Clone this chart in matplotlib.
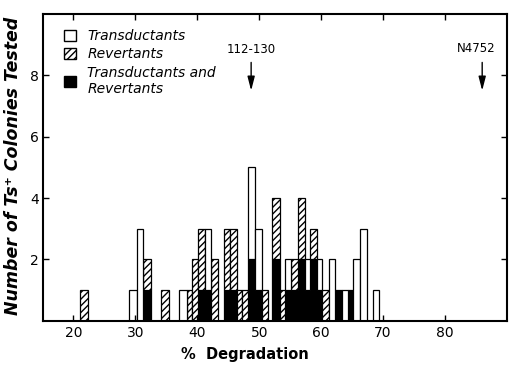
import matplotlib
matplotlib.use("Agg")
import matplotlib.pyplot as plt
from matplotlib.patches import Patch
import numpy as np

edges = [21.0, 22.4, 29.0, 30.2, 31.3, 32.5, 34.1, 35.4, 37.1, 38.3, 39.1, 40.2,
         41.2, 42.3, 43.3, 44.3, 45.3, 46.35, 47.3, 48.2, 49.3, 50.4, 51.45, 52.0,
         53.3, 54.15, 55.2, 56.3, 57.4, 58.2, 59.3, 60.1, 61.2, 62.2, 63.3, 64.3,
         65.2, 66.2, 67.4, 68.3, 69.3]
both = [0, 0, 0, 0, 1, 0, 0, 0, 0, 0, 0, 1, 1, 0, 0, 1, 1, 0, 0, 2,
        1, 0, 0, 2, 0, 1, 1, 2, 1, 2, 1, 0, 0, 1, 0, 1, 0, 0, 0, 0]
revertants = [1, 0, 0, 0, 1, 0, 1, 0, 0, 1, 2, 2, 0, 2, 0, 2, 2, 1, 1, 0,
              0, 1, 0, 2, 1, 0, 1, 2, 0, 1, 0, 1, 0, 0, 0, 0, 0, 0, 0, 0]
transductants = [0, 0, 1, 3, 0, 0, 0, 0, 1, 0, 0, 0, 2, 0, 0, 0, 0, 0, 0, 3,
                 2, 0, 0, 0, 0, 1, 0, 0, 1, 0, 1, 0, 2, 0, 1, 0, 2, 3, 0, 1]

strain_labels = ["112-130", "N4752"]
strain_x = [48.7, 86.0]

plt.rcParams["hatch.linewidth"] = 1.0

fig = plt.figure(figsize=(5.09, 3.67), dpi=100)
ax = fig.add_axes([0.0845, 0.126, 0.9115, 0.836])

left = np.array(edges[:-1])
width = np.diff(edges)
b = np.array(both)
r = np.array(revertants)
t = np.array(transductants)

keep = b > 0
ax.bar(left[keep], b[keep], width=width[keep], align="edge",
       facecolor="black", edgecolor="black", linewidth=0.9)
keep = r > 0
ax.bar(left[keep], r[keep], width=width[keep], bottom=b[keep], align="edge",
       facecolor="white", edgecolor="black", hatch="/////", linewidth=0.9)
keep = t > 0
ax.bar(left[keep], t[keep], width=width[keep], bottom=(b + r)[keep], align="edge",
       facecolor="white", edgecolor="black", linewidth=0.9)

# strain markers
for lab, x in zip(strain_labels, strain_x):
    ax.annotate("", xy=(x, 7.5), xytext=(x, 8.42),
                arrowprops=dict(arrowstyle="-|>,head_length=0.7,head_width=0.18",
                                color="black", lw=1.0, mutation_scale=12,
                                shrinkA=0, shrinkB=0))
ax.text(48.7, 8.85, strain_labels[0], ha="center", va="center", fontsize=8.5)
ax.text(85.0, 8.88, strain_labels[1], ha="center", va="center", fontsize=8.5)

ax.set_xlim(15.1, 90)
ax.set_ylim(0, 10)
ax.set_xticks([20, 30, 40, 50, 60, 70, 80])
ax.set_yticks([2, 4, 6, 8])
ax.tick_params(direction="in", top=True, right=True, length=4, width=1,
               labelsize=10)
ax.tick_params(axis="x", pad=4)
ax.tick_params(axis="y", pad=3)
for s in ax.spines.values():
    s.set_linewidth(1.5)

ax.set_xlabel("%  Degradation", fontsize=10.5, fontweight="bold")
ax.xaxis.set_label_coords(0.435, -0.085)
ax.set_ylabel("Number of Ts\u207a Colonies Tested", fontsize=12.5,
              fontweight="bold", style="italic")
ax.yaxis.set_label_coords(-0.045, 0.505)

handles = [Patch(facecolor="white", edgecolor="black", linewidth=1.0),
           Patch(facecolor="white", edgecolor="black", hatch="/////", linewidth=1.0),
           Patch(facecolor="black", edgecolor="black")]
labels = ["Transductants", "Revertants", "Transductants and\nRevertants"]
ax.legend(handles, labels, loc="upper left", bbox_to_anchor=(0.045, 0.95),
          frameon=False, borderpad=0, borderaxespad=0, handlelength=0.9,
          handleheight=0.9, handletextpad=0.8, labelspacing=0.3,
          prop=dict(style="italic", size=10))

fig.savefig("out.png", dpi=100)
